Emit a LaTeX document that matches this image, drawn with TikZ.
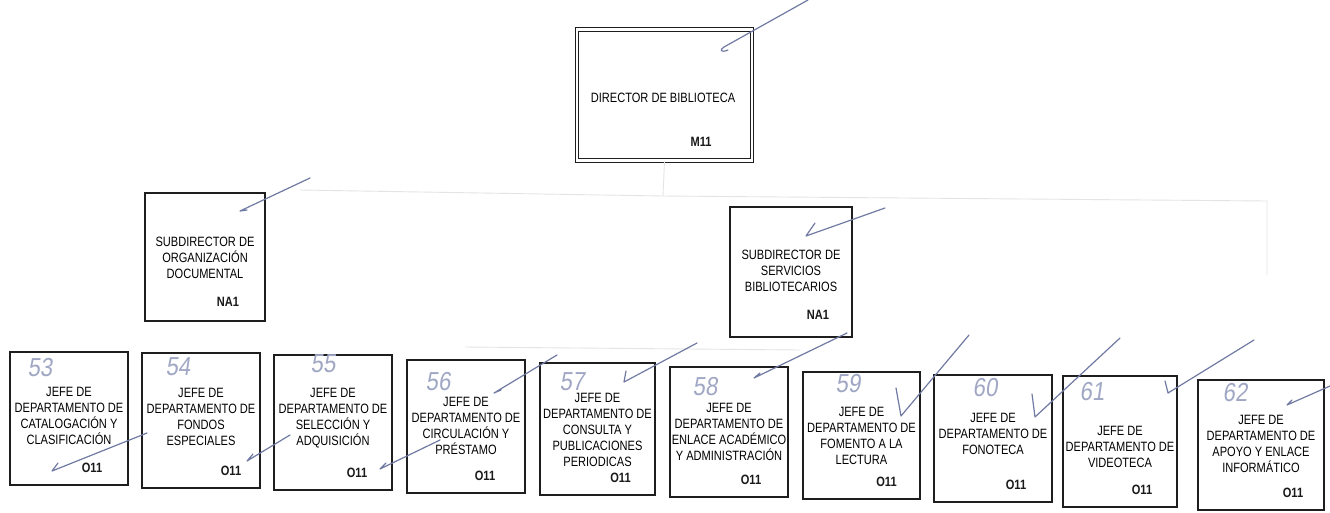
\documentclass[tikz,border=0pt]{standalone}
\usepackage{fontspec}
\newfontfamily\narrow[FakeStretch=0.82]{Liberation Sans}
\newfontfamily\hand[FakeSlant=0.15,FakeStretch=0.85]{Liberation Sans}
\definecolor{inkc}{RGB}{112,122,162}
\definecolor{numc}{RGB}{160,167,196}
\definecolor{boxc}{RGB}{30,30,30}
\definecolor{faint}{RGB}{228,228,228}
\newcommand\jefebox[8]{%
  \node[box, minimum width={#4-#2}, minimum height={#5-#3}] (#1) at ({(#2+#4)/2},{(#3+#5)/2}) {};
  \node[lbl, anchor=north] (#1t) at ({(#2+#4)/2},{#3+#7}) {#6};
  \node[code] (#1c) at ({(#2+#4)/2+#8},{#5-17}) {O11};
}
\begin{document}
\begin{tikzpicture}[x=1pt,y=-1pt,
  box/.style={draw=boxc, line width=1.1pt, inner sep=0pt, rectangle},
  lbl/.style={font=\narrow\fontsize{13.5}{16}\selectfont, align=center, inner sep=0pt, text=black},
  code/.style={font=\narrow\bfseries\fontsize{13.5}{15}\selectfont, inner sep=0pt, text=black!90},
  ink/.style={draw=inkc, line width=1.2pt, line cap=round, line join=round},
  num/.style={font=\hand\fontsize{26}{26}\selectfont, text=numc, inner sep=0pt},
  conn/.style={draw=faint, line width=0.9pt}]
\useasboundingbox[fill=white] (0,0) rectangle (1330,512);

% director box and faint connectors
\node[draw=boxc, double, double distance=2.4pt, line width=0.9pt, minimum width=175pt, minimum height=131pt, inner sep=0pt] (dir) at (664.5,95) {};
\coordinate (busL) at (300,190);
\coordinate (busM) at (663,196);
\coordinate (busR) at (1267,201);
\coordinate (rdown) at (1267,275);
\coordinate (lowL) at (465,347);
\coordinate (lowR) at (800,350);
\draw[conn] (dir.south) -- (busM);
\draw[conn] (busL) -- (busM) -- (busR) -- (rdown);
\draw[conn] (lowL) -- (lowR);

% director
\node[lbl] (dirt) at (663,98) {DIRECTOR DE BIBLIOTECA};
\node[code] (dirc) at (701,142) {M11};

% subdirectors
\node[box, minimum width=120pt, minimum height=128pt] (s1) at (205,257) {};
\node[lbl, anchor=north] (s1t) at (205,237) {SUBDIRECTOR DE\\ORGANIZACIÓN\\DOCUMENTAL};
\node[code] (s1c) at (228,302) {NA1};
\node[box, minimum width=122pt, minimum height=130pt] (s2) at (791,272) {};
\node[lbl, anchor=north] (s2t) at (791,250) {SUBDIRECTOR DE\\SERVICIOS\\BIBLIOTECARIOS};
\node[code] (s2c) at (818,315) {NA1};

% department heads
\jefebox{j1}{10}{352}{128}{485}{JEFE DE\\DEPARTAMENTO DE\\CATALOGACIÓN Y\\CLASIFICACIÓN}{35}{23}
\jefebox{j2}{142}{353}{260}{488}{JEFE DE\\DEPARTAMENTO DE\\FONDOS\\ESPECIALES}{35}{30}
\jefebox{j3}{274}{355}{392}{490}{JEFE DE\\DEPARTAMENTO DE\\SELECCIÓN Y\\ADQUISICIÓN}{33}{24}
\jefebox{j4}{407}{360}{525}{493}{JEFE DE\\DEPARTAMENTO DE\\CIRCULACIÓN Y\\PRÉSTAMO}{37}{19}
\jefebox{j5}{540}{363}{655}{495}{JEFE DE\\DEPARTAMENTO DE\\CONSULTA Y\\PUBLICACIONES\\PERIODICAS}{30}{23}
\jefebox{j6}{670}{367}{788}{497}{JEFE DE\\DEPARTAMENTO DE\\ENLACE ACADÉMICO\\Y ADMINISTRACIÓN}{36}{22}
\jefebox{j7}{803}{372}{920}{499}{JEFE DE\\DEPARTAMENTO DE\\FOMENTO A LA\\LECTURA}{35}{25}
\jefebox{j8}{934}{375}{1052}{502}{JEFE DE\\DEPARTAMENTO DE\\FONOTECA}{38}{23}
\jefebox{j9}{1063}{376}{1177}{507}{JEFE DE\\DEPARTAMENTO DE\\VIDEOTECA}{50}{22}
\jefebox{j10}{1198}{380}{1324}{510}{JEFE DE\\DEPARTAMENTO DE\\APOYO Y ENLACE\\INFORMÁTICO}{35}{32}

% handwritten numbers
\node[num] (n53) at (40,368) {53};
\node[num] (n54) at (178,367) {54};
\node[num] (n55) at (323,364) {55};
\node[num] (n56) at (438,382) {56};
\node[num] (n57) at (572,382) {57};
\node[num] (n58) at (705,387) {58};
\node[num] (n59) at (848,384) {59};
\node[num] (n60) at (985,388) {60};
\node[num] (n61) at (1092,392) {61};
\node[num] (n62) at (1235,393) {62};

% handwritten check strokes
\draw[ink] (808,0) -- (724,47) .. controls (719,50) and (721,53) .. (728,50);
\draw[ink] (310,178) -- (240,211) -- (247,210);
\draw[ink] (885,208) -- (806,236) -- (815,223);
\draw[ink] (147,433) -- (52,471) -- (58,463);
\draw[ink] (290,435) -- (247,461) -- (253,454);
\draw[ink] (440,440) -- (380,469) -- (386,463);
\draw[ink] (557,355) -- (494,393) -- (501,390);
\draw[ink] (697,343) -- (624,382) -- (626,371);
\draw[ink] (847,333) -- (754,378) -- (760,373);
\draw[ink] (896,388) -- (901,416) -- (969,335);
\draw[ink] (1032,394) -- (1035,417) -- (1120,338);
\draw[ink] (1165,381) -- (1168,393) -- (1254,340);
\draw[ink] (1330,386) -- (1287,405) -- (1292,400);
\end{tikzpicture}
\end{document}
